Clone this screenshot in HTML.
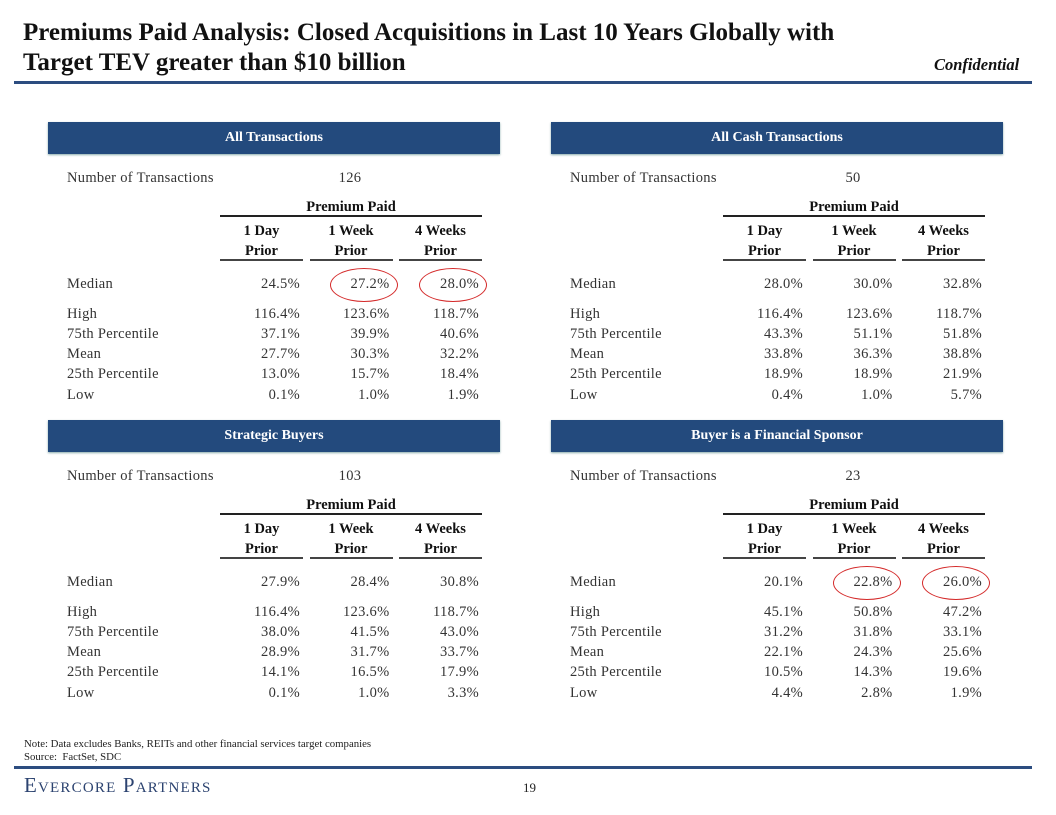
<!DOCTYPE html>
<html><head><meta charset="utf-8"><style>
body{margin:0;background:#fff;}
#page{position:relative;width:1056px;height:815px;overflow:hidden;font-family:"Liberation Serif",serif;color:#333;}
.a{position:absolute;white-space:nowrap;line-height:1;}
.t{font-size:25px;font-weight:bold;color:#111;}
.hdr{position:absolute;background:#234a7d;color:#fff;font-weight:bold;font-size:14px;text-align:center;line-height:32px;box-shadow:0 1px 2px #8aa;}
.b{font-size:14.5px;letter-spacing:0.3px;}
.bold{font-weight:bold;color:#111;letter-spacing:0;}
.line{position:absolute;background:#222;}
.r{text-align:right;}
.c{text-align:center;}
</style></head><body>
<div id="page">
<div class="a t" style="left:23px;top:20px">Premiums Paid Analysis: Closed Acquisitions in Last 10 Years Globally with</div>
<div class="a t" style="left:23px;top:50px">Target TEV greater than $10 billion</div>
<div class="a" style="left:934px;top:57px;font-size:16.5px;font-style:italic;font-weight:bold;color:#111">Confidential</div>
<div style="position:absolute;left:14px;top:81px;width:1018px;height:3px;background:#2c4d80"></div>
<div class="a" style="left:24px;top:739px;font-size:10.8px;color:#222">Note: Data excludes Banks, REITs and other financial services target companies</div>
<div class="a" style="left:24px;top:752px;font-size:10.8px;color:#222">Source:&nbsp; FactSet, SDC</div>
<div style="position:absolute;left:14px;top:766px;width:1018px;height:3px;background:#2c4d80"></div>
<div class="a" style="left:24px;top:775px;font-size:21px;font-variant:small-caps;letter-spacing:1.2px;color:#2c4370">Evercore Partners</div>
<div class="a" style="left:523px;top:781px;font-size:13px;color:#222">19</div>
</div>
<script>
const panelTitles=["All Transactions","All Cash Transactions","Strategic Buyers","Buyer is a Financial Sponsor"];
const panelCounts=["126","50","103","23"];
const rowLabels=["Median","High","75th Percentile","Mean","25th Percentile","Low"];
const colHeads1=["1 Day","1 Week","4 Weeks"];
const allTx=[["24.5%","27.2%","28.0%"],["116.4%","123.6%","118.7%"],["37.1%","39.9%","40.6%"],["27.7%","30.3%","32.2%"],["13.0%","15.7%","18.4%"],["0.1%","1.0%","1.9%"]];
const cashTx=[["28.0%","30.0%","32.8%"],["116.4%","123.6%","118.7%"],["43.3%","51.1%","51.8%"],["33.8%","36.3%","38.8%"],["18.9%","18.9%","21.9%"],["0.4%","1.0%","5.7%"]];
const stratTx=[["27.9%","28.4%","30.8%"],["116.4%","123.6%","118.7%"],["38.0%","41.5%","43.0%"],["28.9%","31.7%","33.7%"],["14.1%","16.5%","17.9%"],["0.1%","1.0%","3.3%"]];
const finTx=[["20.1%","22.8%","26.0%"],["45.1%","50.8%","47.2%"],["31.2%","31.8%","33.1%"],["22.1%","24.3%","25.6%"],["10.5%","14.3%","19.6%"],["4.4%","2.8%","1.9%"]];
const panelData=[allTx,cashTx,stratTx,finTx];
const circled=[[1,2],[],[],[1,2]];
const page=document.getElementById('page');
function add(cls,style,text,name){const d=document.createElement('div');d.className=cls;d.style.cssText=style;if(text!==null)d.textContent=text;


page.appendChild(d);return d;}
const rowY=[285,315,335,355,375,396];
panelData.forEach((data,p)=>{
 const ox=p%2?503:0, oy=p>1?298:0;
 const slug=panelTitles[p].toLowerCase().replace(/[^a-z]+/g,'-');
 add('hdr',`left:${48+ox}px;top:${122+oy}px;width:${452}px;height:32px`,panelTitles[p],slug+'-header');
 add('a b',`left:${67+ox}px;top:${171+oy}px`,'Number of Transactions',slug+'-count-label');
 add('a b c',`left:${320+ox}px;top:${171+oy}px;width:60px`,panelCounts[p],slug+'-count-value');
 add('a b bold c',`left:${220+ox}px;top:${200+oy}px;width:262px`,'Premium Paid',slug+'-premium-paid-header');
 add('line',`left:${220+ox}px;top:${215+oy}px;width:262px;height:1.5px`,null,slug+'-premium-rule');
 for(let c=0;c<3;c++){
  const lx=220+ox+c*89.5;
  add('a b bold c',`left:${lx}px;top:${224+oy}px;width:83px`,colHeads1[c],slug+'-col-head-'+c);
  add('a b bold c',`left:${lx}px;top:${244+oy}px;width:83px`,'Prior',slug+'-col-prior-'+c);
  add('line',`left:${lx}px;top:${259+oy}px;width:83px;height:2px;background:#444`,null,slug+'-col-rule-'+c);
 }
 data.forEach((row,r)=>{
  const y=rowY[r]+oy-8;
  add('a b',`left:${67+ox}px;top:${y}px`,rowLabels[r],slug+'-row-label-'+r);
  row.forEach((v,c)=>{
   const right=300+ox+c*89.5;
   add('a b r',`left:${right-80}px;top:${y}px;width:80px`,v,slug+'-value-'+r+'-'+c);
  });
 });
 circled[p].forEach(c=>{
  const cx=275+ox+c*89, cy=rowY[0]+oy;
  add('',`position:absolute;left:${cx-34}px;top:${cy-17}px;width:68px;height:34px;border:1.5px solid #d42a2a;border-radius:50%;box-sizing:border-box`,null,slug+'-median-circle-'+c);
 });
});
</script>
</body></html>
